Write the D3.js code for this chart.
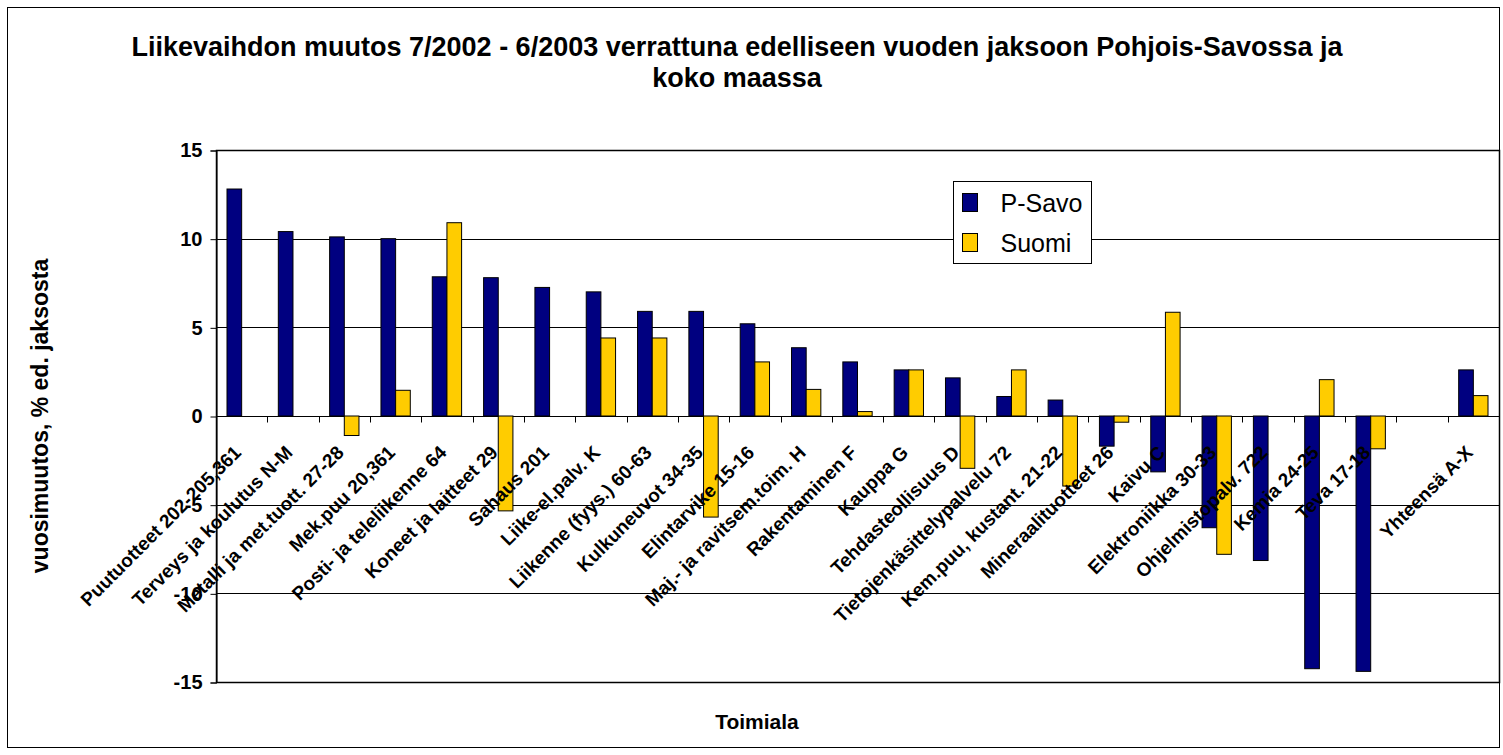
<!DOCTYPE html>
<html>
<head>
<meta charset="utf-8">
<script src="https://d3js.org/d3.v7.min.js"></script>
<style>
  body { margin: 0; background: #fff; }
  svg { display: block; font-family: Arial, "Liberation Sans", sans-serif; }
</style>
</head>
<body>
<script>
'use strict';

// categories in chart order (one empty slot before the total)
const categories = [
  "Puutuotteet 202-205,361", "Terveys ja koulutus N-M", "Metalli ja met.tuott. 27-28",
  "Mek.puu 20,361", "Posti- ja teleliikenne 64", "Koneet ja laitteet 29", "Sahaus 201",
  "Liike-el.palv. K", "Liikenne (fyys.) 60-63", "Kulkuneuvot 34-35", "Elintarvike 15-16",
  "Maj.- ja ravitsem.toim. H", "Rakentaminen F", "Kauppa G", "Tehdasteollisuus D",
  "Tietojenkäsittelypalvelu 72", "Kem.puu, kustant. 21-22", "Mineraalituotteet 26",
  "Kaivu C", "Elektroniikka 30-33", "Ohjelmistopalv. 722", "Kemia 24-25", "Teva 17-18",
  "", "Yhteensä A-X"
];

// vuosimuutos %, P-Savo
const pSavo = [12.8, 10.4, 10.1, 10.0, 7.85, 7.8, 7.25, 7.0, 5.9, 5.9, 5.2, 3.85, 3.05,
  2.6, 2.15, 1.1, 0.9, -1.7, -3.15, -6.3, -8.15, -14.25, -14.4, null, 2.6];

// vuosimuutos %, Suomi (koko maa)
const suomi = [null, null, -1.1, 1.45, 10.9, -5.35, null, 4.4, 4.4, -5.7, 3.05, 1.5, 0.25,
  2.6, -2.95, 2.6, -3.95, -0.35, 5.85, -7.8, null, 2.05, -1.85, null, 1.15];

const seriesNames = ["P-Savo", "Suomi"];
const seriesColors = ["#000080", "#FFCC00"];
const yTicks = [-15, -10, -5, 0, 5, 10, 15];

(function() {

  let svgContainer = "";
  const width = 1503, height = 755;
  const plot = { left: 216, right: 1499, top: 150, bottom: 682 };

  window.onload = function() {
    svgContainer = d3.select('body')
      .append('svg')
      .attr('width', width)
      .attr('height', height);

    // outer chart border
    svgContainer.append('rect')
      .attr('x', 7.5).attr('y', 7.5)
      .attr('width', 1492).attr('height', 740)
      .attr('fill', 'white')
      .attr('stroke', 'black');

    let scales = drawAxes();
    plotData(scales);
    drawCategoryLabels(scales);
    makeLegend();
    makeLabels();
  };

  // scales, gridlines, axes
  function drawAxes() {
    let xScale = d3.scaleBand()
      .domain(d3.range(categories.length))
      .range([plot.left, plot.right])
      .paddingInner(0);

    let yScale = d3.scaleLinear()
      .domain([-15, 15])
      .range([plot.bottom, plot.top]);

    // horizontal gridlines
    svgContainer.append('g')
      .selectAll('line')
      .data(yTicks)
      .enter()
      .append('line')
        .attr('x1', plot.left)
        .attr('x2', plot.right)
        .attr('y1', d => Math.round(yScale(d)) + 0.5)
        .attr('y2', d => Math.round(yScale(d)) + 0.5)
        .attr('stroke', '#000')
        .attr('stroke-width', 1);

    // plot area border
    svgContainer.append('rect')
      .attr('x', plot.left + 0.5)
      .attr('y', plot.top + 0.5)
      .attr('width', plot.right - plot.left)
      .attr('height', plot.bottom - plot.top)
      .attr('fill', 'none')
      .attr('stroke', '#000')
      .attr('stroke-width', 1.5);

    // y-axis with outside ticks
    let yAxis = d3.axisLeft(yScale)
      .tickValues(yTicks)
      .tickSize(6)
      .tickPadding(8)
      .tickFormat(d => String(d)); // plain hyphen like the original
    let yg = svgContainer.append('g')
      .attr('transform', 'translate(' + (plot.left + 0.5) + ',0.5)')
      .call(yAxis);
    yg.select('.domain').attr('stroke', '#000');
    yg.selectAll('text')
      .style('font-size', '20px')
      .style('font-weight', 'bold')
      .attr('fill', '#000');

    // category axis at zero, ticks between categories
    let zeroY = Math.round(yScale(0)) + 0.5;
    let boundaries = d3.range(categories.length + 1).map(i => plot.left + i * xScale.step());
    let xg = svgContainer.append('g');
    xg.append('line')
      .attr('x1', plot.left).attr('x2', plot.right)
      .attr('y1', zeroY).attr('y2', zeroY)
      .attr('stroke', '#000');
    xg.selectAll('.xtick')
      .data(boundaries)
      .enter()
      .append('line')
        .attr('class', 'xtick')
        .attr('x1', d => Math.round(d) + 0.5)
        .attr('x2', d => Math.round(d) + 0.5)
        .attr('y1', zeroY)
        .attr('y2', zeroY + 6)
        .attr('stroke', '#000');

    return { xScale: xScale, yScale: yScale };
  }

  // clustered bars, gap width 150%
  function plotData(s) {
    let barW = s.xScale.bandwidth() / 3.5;
    let rows = [];
    categories.forEach((c, i) => {
      [pSavo[i], suomi[i]].forEach((v, k) => {
        if (v !== null) rows.push({ i: i, k: k, v: v });
      });
    });

    svgContainer.append('g')
      .selectAll('rect')
      .data(rows)
      .enter()
      .append('rect')
        .attr('x', d => s.xScale(d.i) + 0.75 * barW + d.k * barW)
        .attr('y', d => s.yScale(Math.max(0, d.v)))
        .attr('width', barW)
        .attr('height', d => Math.abs(s.yScale(d.v) - s.yScale(0)))
        .attr('fill', d => seriesColors[d.k])
        .attr('stroke', '#000')
        .attr('stroke-width', 1);
  }

  // rotated category labels below the zero line
  function drawCategoryLabels(s) {
    let zeroY = s.yScale(0);
    svgContainer.append('g')
      .selectAll('text')
      .data(categories)
      .enter()
      .append('text')
        .attr('transform', (d, i) => 'translate(' + (s.xScale(i) + s.xScale.bandwidth() / 2 - 9) + ',' + (zeroY + 28) + ')rotate(-45)')
        .attr('text-anchor', 'end')
        .attr('dy', '0.72em')
        .style('font-size', '19px')
        .style('font-weight', 'bold')
        .text(d => d);
  }

  function makeLegend() {
    let g = svgContainer.append('g')
      .attr('transform', 'translate(953.5,181.5)');
    g.append('rect')
      .attr('width', 138)
      .attr('height', 82)
      .attr('fill', 'white')
      .attr('stroke', '#000');

    let items = g.selectAll('.item')
      .data(seriesNames)
      .enter()
      .append('g')
        .attr('transform', (d, i) => 'translate(9,' + (12 + i * 40) + ')');
    items.append('rect')
      .attr('width', 15)
      .attr('height', 18)
      .attr('fill', (d, i) => seriesColors[i])
      .attr('stroke', '#000');
    items.append('text')
      .attr('x', 38)
      .attr('y', 9)
      .attr('dy', '0.36em')
      .style('font-size', '25px')
      .text(d => d);
  }

  // title and axis titles
  function makeLabels() {
    let title = svgContainer.append('text')
      .attr('text-anchor', 'middle')
      .style('font-size', '27px')
      .style('font-weight', 'bold');
    title.append('tspan')
      .attr('x', 737).attr('y', 56)
      .text("Liikevaihdon muutos 7/2002 - 6/2003 verrattuna edelliseen vuoden jaksoon Pohjois-Savossa ja");
    title.append('tspan')
      .attr('x', 737).attr('y', 87)
      .text("koko maassa");

    svgContainer.append('text')
      .attr('x', 757)
      .attr('y', 729)
      .attr('text-anchor', 'middle')
      .style('font-size', '21px')
      .style('font-weight', 'bold')
      .text('Toimiala');

    svgContainer.append('text')
      .attr('transform', 'translate(48,416)rotate(-90)')
      .attr('text-anchor', 'middle')
      .style('font-size', '23px')
      .style('font-weight', 'bold')
      .text('vuosimuutos, % ed. jaksosta');
  }

})();
</script>
</body>
</html>
